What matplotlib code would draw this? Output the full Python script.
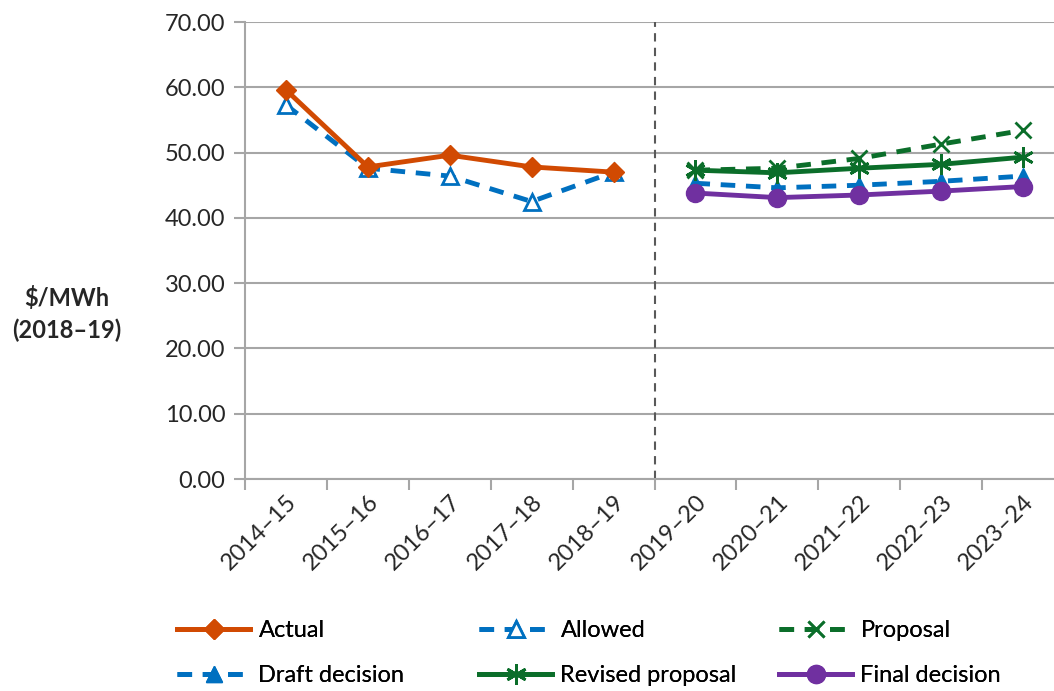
import numpy as np
import matplotlib.pyplot as plt

plt.rcParams['font.family'] = ['Lato', 'DejaVu Sans']

years = ["2014–15", "2015–16", "2016–17", "2017–18", "2018–19",
         "2019–20", "2020–21", "2021–22", "2022–23", "2023–24"]
nan = np.nan
actual = [59.6, 47.8, 49.6, 47.8, 47.0, nan, nan, nan, nan, nan]
allowed = [57.3, 47.6, 46.4, 42.5, 47.0, nan, nan, nan, nan, nan]
proposal = [nan, nan, nan, nan, nan, 47.3, 47.6, 49.1, 51.3, 53.4]
draft = [nan, nan, nan, nan, nan, 45.3, 44.6, 45.0, 45.6, 46.4]
revised = [nan, nan, nan, nan, nan, 47.3, 46.9, 47.6, 48.2, 49.3]
final = [nan, nan, nan, nan, nan, 43.8, 43.1, 43.5, 44.1, 44.8]

orange = "#D14A02"
blue = "#0070C0"
green = "#0B6E2A"
purple = "#7030A0"
grid_c = "#A6A6A6"
txt_c = "#262626"
fs = 17

fig = plt.figure(figsize=(10.54, 6.91), dpi=100)
ax = fig.add_axes([245/1054, 212/691, 819/1054, 457/691])
x = np.arange(len(years))
dash = (0, (3, 2.2))

ax.plot(x, actual, color=orange, lw=3.5, marker="D", ms=10, label="Actual", zorder=5)
ax.plot(x, allowed, color=blue, lw=3.5, ls=dash, marker="^", ms=12,
        mfc="white", mew=2, label="Allowed", zorder=4)
ax.plot(x, proposal, color=green, lw=3.5, ls=dash, marker="x", ms=12,
        mew=2, label="Proposal", zorder=4)
ax.plot(x, draft, color=blue, lw=3.5, ls=dash, marker="^", ms=11,
        label="Draft decision", zorder=3)
ax.plot(x, revised, color=green, lw=3.5, marker=(6, 2, 0), ms=15, mew=2,
        label="Revised proposal", zorder=4)
ax.plot(x, final, color=purple, lw=3.5, marker="o", ms=13,
        label="Final decision", zorder=5)

# split between historical and forecast periods
ax.axvline(4.5, color="#595959", lw=1.5, ls=(0, (4, 3)), zorder=2)

ax.set_ylim(0, 70)
ax.set_xlim(-0.5, 9.5)
ax.set_yticks(np.arange(0, 71, 10))
ax.set_yticklabels([f"{v:.2f}" for v in np.arange(0, 71, 10)])
ax.yaxis.grid(True, color=grid_c, lw=1.5, zorder=0)
ax.set_axisbelow(True)

ax.set_xticks(np.arange(-0.5, 10, 1))
ax.set_xticklabels([])
ax.set_xticks(x, minor=True)
ax.set_xticklabels(years, minor=True, rotation=45, ha="right", rotation_mode="anchor")
ax.tick_params(axis="x", which="minor", length=0, pad=9, labelsize=fs, colors=txt_c)
ax.tick_params(axis="x", which="major", length=8, width=1.5, color=grid_c)
ax.tick_params(axis="y", length=8, width=1.5, color=grid_c, labelsize=fs,
               labelcolor=txt_c, pad=6)

for s in ["top", "right"]:
    ax.spines[s].set_visible(False)
for s in ["left", "bottom"]:
    ax.spines[s].set_color(grid_c)
    ax.spines[s].set_linewidth(1.5)

fig.text(67/1054, 1 - 314/691, "$/MWh\n(2018–19)", ha="center", va="center",
         fontsize=fs, fontweight="bold", color=txt_c, linespacing=1.4)

# legend laid out as three separate columns
h, l = ax.get_legend_handles_labels()
cols = [(0, 3), (1, 4), (2, 5)]
col_x = [177, 479, 779]
for (a, b), cx in zip(cols, col_x):
    leg = fig.legend([h[a], h[b]], [l[a], l[b]], loc="center left",
                     bbox_to_anchor=(cx/1054, 1 - 653/691), borderpad=0,
                     borderaxespad=0, frameon=False, fontsize=fs,
                     handlelength=3.1, labelspacing=1.0, handletextpad=0.35)
    fig.add_artist(leg)

fig.savefig("out.png", dpi=100)
